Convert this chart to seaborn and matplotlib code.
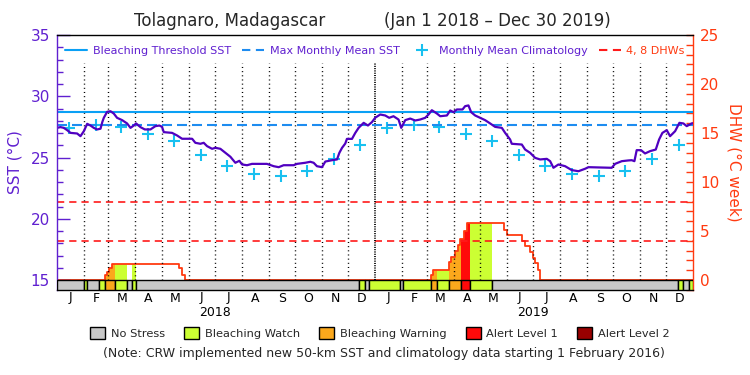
import numpy as np
import pandas as pd
import matplotlib
matplotlib.use("Agg")
import matplotlib.pyplot as plt
import matplotlib.transforms as mtransforms
from matplotlib.lines import Line2D
from matplotlib.patches import Patch
from matplotlib.ticker import MultipleLocator
import seaborn as sns

# ---------------- data (days since 2018-01-01) ----------------
sst_day = [0, 4.0, 7.8, 11.7, 15.5, 23.1, 26.9, 30.8, 34.6, 38.4, 42.2, 46.0, 49.9, 52.0,
           53.7, 57.5, 61.3, 65.1, 68.9, 74.7, 80.4, 84.3, 88.1, 90.7, 95.7, 100.7, 107.2,
           112.9, 117.5, 120.5, 122.5, 132.0, 137.7, 143.5, 155.0, 158.7, 164.5, 168.3,
           172.1, 177.9, 181.7, 187.4, 193.2, 198.9, 204.6, 209.2, 212.3, 218.0, 223.7,
           240.9, 248.6, 254.3, 260.0, 271.5, 275.3, 284.8, 290.6, 294.4, 298.2, 304.0,
           307.8, 315.5, 321.2, 323.9, 327.0, 330.7, 332.6, 338.4, 342.2, 346.0, 351.8,
           356.7, 361.3, 365.1, 370.8, 376.5, 381.1, 386.0, 391.8, 394.9, 399.5, 405.2,
           410.9, 416.6, 422.4, 426.2, 430.0, 435.8, 439.6, 447.3, 451.1, 454.9, 458.7,
           465.2, 468.2, 472.0, 475.1, 479.7, 485.4, 491.1, 496.9, 502.6, 510.3, 514.1,
           519.8, 521.7, 533.2, 537.0, 542.8, 548.5, 554.2, 561.9, 565.7, 569.5, 575.2,
           582.9, 590.5, 598.2, 605.8, 609.7, 636.4, 640.2, 647.9, 655.5, 659.3, 662.4,
           665.0, 670.0, 674.6, 680.4, 686.9, 690.7, 694.5, 699.5, 703.3, 709.1, 714.0,
           718.6, 722.4, 728.1, 729.6]
sst_val = [27.42, 27.48, 27.42, 27.23, 27.01, 26.96, 26.74, 27.15, 27.75, 27.61, 27.42,
           27.29, 27.35, 27.90, 28.24, 28.73, 28.78, 28.59, 28.24, 28.05, 27.78, 27.42,
           27.61, 27.78, 27.48, 27.29, 27.29, 27.56, 27.61, 27.50, 27.07, 27.01, 26.80,
           26.53, 26.53, 26.20, 26.12, 26.20, 25.93, 25.71, 25.79, 25.71, 25.38, 25.06,
           24.57, 24.73, 24.43, 24.37, 24.48, 24.48, 24.29, 24.21, 24.37, 24.37, 24.48,
           24.57, 24.65, 24.57, 24.29, 24.21, 24.67, 24.78, 24.84, 25.38, 25.79, 26.14,
           26.52, 26.52, 27.01, 27.42, 27.83, 27.61, 27.89, 28.25, 28.51, 28.43, 28.24,
           28.37, 28.10, 27.42, 28.05, 28.18, 28.02, 28.10, 28.24, 28.51, 28.86, 28.59,
           28.37, 28.43, 28.84, 28.70, 28.92, 28.92, 29.19, 29.25, 28.70, 28.43, 28.24,
           28.05, 27.78, 27.50, 27.42, 27.01, 26.47, 26.12, 26.06, 25.65, 25.38, 24.97,
           24.84, 24.89, 24.70, 24.16, 24.43, 24.29, 23.97, 23.88, 24.08, 24.21, 24.16,
           24.48, 24.70, 24.76, 24.78, 24.70, 25.60, 25.60, 25.33, 25.52, 25.65, 26.47,
           27.01, 27.23, 26.74, 27.15, 27.83, 27.78, 27.56, 27.78, 27.80]

clim_month_val = [27.42, 27.65, 27.50, 26.93, 26.33, 25.19, 24.29, 23.64, 23.48, 23.91,
                  24.89, 26.06]
mmm_sst = 27.66
threshold_sst = 28.68
dhw_ref = [4, 8]

dhw_day = [0, 55.6, 57.6, 59.5, 63.3, 140.4, 143.4, 147.2, 428.9, 430.8, 449.2, 452.3,
           456.1, 459.6, 462.6, 467.2, 470.3, 512.3, 516.1, 533.3, 537.1, 542.1, 545.9,
           548.6, 551.3, 554.3, 729.6]
dhw_val = [0, 0.5, 0.85, 1.19, 1.6, 1.19, 0.5, 0, 0.5, 1.02, 1.8, 2.3, 3.0, 3.57, 4.15,
           5.0, 5.78, 5.1, 4.6, 3.95, 3.5, 2.9, 2.25, 1.7, 1.0, 0, 0]

stress_start = [0, 31.3, 34, 48.5, 55.5, 66, 80, 86.2, 91, 347, 353.6, 358, 393, 396.8,
                429, 435.8, 449.2, 463.3, 473.3, 499, 712, 718.5, 725]
stress_level = [0, 1, 0, 1, 2, 1, 0, 1, 0, 1, 0, 1, 0, 1, 2, 1, 2, 3, 1, 0, 1, 0, 1]
end_day = 729.6

stress_names = ["No Stress", "Bleaching Watch", "Bleaching Warning", "Alert Level 1",
                "Alert Level 2"]
stress_colors = ["#c8c8c8", "#ccff33", "#fba81c", "#ff0a0a", "#990000"]
month_letters = list("JFMAMJJASOND") * 2
years = ["2018", "2019"]

# ---------------- style ----------------
sns.set_theme(style="white")
plt.rcParams["font.family"] = ["DejaVu Sans"]
plt.rcParams["lines.scale_dashes"] = False

PURPLE = "#6020d0"
SSTC = "#5000c0"
ORANGE = "#ff3a10"
BLUE = "#0aa0f5"
DBLUE = "#1e8cf0"
CYAN = "#18c0f0"

W, H = 750, 375
fig = plt.figure(figsize=(7.5, 3.75), dpi=100)
ax = fig.add_axes([57 / W, 1 - 290 / H, 636 / W, 255 / H])
ax2 = ax.twinx()
ax.set_zorder(2)
ax.patch.set_visible(False)
ax2.set_zorder(1)

ymin_sst = 15 - 10 / 12.25
ax.set_ylim(ymin_sst, 35)
ax2.set_ylim((ymin_sst - 15) * 1.25, 25)
ax.set_xlim(0, end_day)

# month geometry
start = pd.Timestamp("2018-01-01")
mstarts = pd.date_range("2018-01-01", "2020-01-01", freq="MS")
mdays = np.array([(m - start).days for m in mstarts], dtype=float)
mdays[-1] = end_day
mid = (mdays[:-1] + mdays[1:]) / 2
clim_day = np.array([(m - start).days + 14 for m in mstarts[:-1]], dtype=float)
clim_val = clim_month_val * 2

# DHW fills by stress level
seg_end = stress_start[1:] + [end_day]
d_arr = np.array(dhw_day)
v_arr = np.array(dhw_val)


def dhw_at(x):
    return v_arr[np.clip(np.searchsorted(d_arr, x, side="right") - 1, 0, len(v_arr) - 1)]


for s, e, lev in zip(stress_start, seg_end, stress_level):
    if lev == 0:
        continue
    inside = d_arr[(d_arr > s) & (d_arr < e)]
    xs = np.concatenate([[s], inside, [e]])
    ys = dhw_at(xs)
    ax2.fill_between(xs, 0, ys, step="post", color=stress_colors[lev], linewidth=0)

sns.lineplot(x=dhw_day, y=dhw_val, ax=ax2, drawstyle="steps-post", color=ORANGE,
             linewidth=1.3, estimator=None, sort=False)
for v in dhw_ref:
    ax2.axhline(v, color="#ff1a1a", lw=1.2, dashes=(5.2, 3.6))

# month dotted lines
ax.vlines(mdays[1:-1][mdays[1:-1] != 365], 15, 32.7, colors="black", lw=1,
          linestyles=[(0, (0.75, 2.25))])
ax.vlines([365], 15, 32.7, colors="black", lw=1.3, linestyles=[(0, (0.75, 0.9))])

ax.axhline(threshold_sst, color=BLUE, lw=1.5)
ax.axhline(mmm_sst, color=DBLUE, lw=1.5, dashes=(7.2, 3.6))

sns.lineplot(x=sst_day, y=sst_val, ax=ax, color=SSTC, linewidth=1.6, estimator=None,
             sort=False)
sns.scatterplot(x=clim_day, y=clim_val, ax=ax, marker="+", s=70, color=CYAN,
                linewidth=1.5)

# stress bar
ax.bar(stress_start, 15 - ymin_sst, width=np.array(seg_end) - np.array(stress_start),
       bottom=ymin_sst, align="edge", color=[stress_colors[l] for l in stress_level],
       edgecolor="black", linewidth=1, zorder=5)

# axes styling
ax.set_xticks([])
ax.set_yticks([15, 20, 25, 30, 35])
ax.yaxis.set_minor_locator(MultipleLocator(1))
ax.tick_params(axis="y", which="major", direction="in", length=9.5, width=1,
               color=PURPLE, labelcolor=PURPLE, labelsize=11, pad=5, left=True)
ax.tick_params(axis="y", which="minor", direction="in", length=4.5, width=1,
               color=PURPLE, left=True)
ax2.set_yticks([0, 5, 10, 15, 20, 25])
ax2.yaxis.set_minor_locator(MultipleLocator(1))
ax2.tick_params(axis="y", which="both", direction="in", length=5, width=1,
                color=ORANGE, labelcolor=ORANGE, labelsize=11, pad=5, right=True)
ax.set_xlabel("")
ax.set_ylabel("SST (°C)", color=PURPLE, fontsize=11, labelpad=6)
ax2.set_ylabel("DHW (°C week)", color=ORANGE, fontsize=11, rotation=270, labelpad=16)
for sp in ("top", "bottom"):
    ax.spines[sp].set_color("black")
    ax.spines[sp].set_linewidth(1)
ax.spines["left"].set_color(PURPLE)
ax.spines["right"].set_visible(False)
ax2.spines["right"].set_color(ORANGE)
ax2.spines["left"].set_visible(False)
ax2.spines["top"].set_visible(False)
ax2.spines["bottom"].set_visible(False)
for sp in ax.spines.values():
    sp.set_linewidth(1)
ax2.spines["right"].set_linewidth(1)

# month / year labels
trans = mtransforms.blended_transform_factory(ax.transData, ax.transAxes)
for x, lab in zip(mid, month_letters):
    ax.text(x, -8 / 255, lab, transform=trans, ha="center", va="center", fontsize=9,
            color="black")
for i, yr in enumerate(years):
    ax.text(mid[6 * (2 * i + 1) - 1] / 2 + mid[6 * (2 * i + 1)] / 2, -22 / 255, yr,
            transform=trans, ha="center", va="center", fontsize=9, color="black")

# top legend
handles = [Line2D([], [], color=BLUE, lw=1.5),
           Line2D([], [], color=DBLUE, lw=1.5, dashes=(6, 4)),
           Line2D([], [], color=CYAN, lw=0, marker="+", markersize=8, mew=1.5),
           Line2D([], [], color="#ff1a1a", lw=1.5, dashes=(6, 4))]
labels = ["Bleaching Threshold SST", "Max Monthly Mean SST", "Monthly Mean Climatology",
          "4, 8 DHWs"]
leg = ax.legend(handles, labels, loc="center", bbox_to_anchor=(0.5, (290 - 51) / 255),
                ncol=4, frameon=False, fontsize=8, handlelength=2, handletextpad=0.5,
                columnspacing=1.0, labelcolor=[PURPLE, PURPLE, PURPLE, ORANGE],
                borderaxespad=0, borderpad=0)

# bottom legend
sh = [Patch(facecolor=c, edgecolor="black", linewidth=1) for c in stress_colors]
fig.legend(sh, stress_names, loc="center", bbox_to_anchor=(380 / W, 1 - 333 / H),
           ncol=5, frameon=False, fontsize=8.2, handlelength=1.3, handleheight=1.3,
           handletextpad=0.5, columnspacing=1.7, borderpad=0)

fig.text(230 / W, 1 - 21 / H, "Tolagnaro, Madagascar", ha="center", va="center",
         fontsize=12)
fig.text(497 / W, 1 - 21 / H, "(Jan 1 2018 – Dec 30 2019)", ha="center", va="center",
         fontsize=12)
fig.text(384 / W, 1 - 353 / H,
         "(Note: CRW implemented new 50-km SST and climatology data starting 1 February 2016)",
         ha="center", va="center", fontsize=9)

fig.savefig("out.png", dpi=100)
